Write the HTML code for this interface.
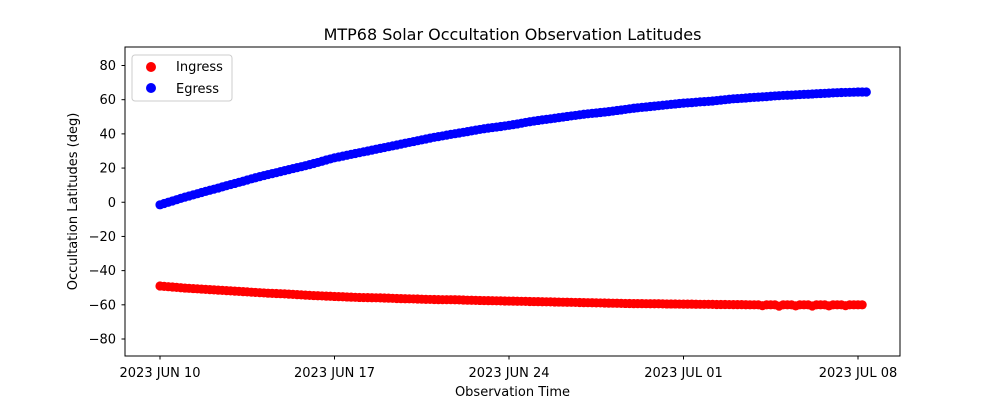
<!DOCTYPE html>
<html><head><meta charset="utf-8"><style>
body{margin:0;background:#fff;}
svg text{font-family:"DejaVu Sans","Liberation Sans",sans-serif;}
</style></head><body>
<svg id="chart" width="1000" height="400" xmlns="http://www.w3.org/2000/svg">
<rect width="1000" height="400" fill="#fff"/>
<text x="512.5" y="40" font-size="16" text-anchor="middle">MTP68 Solar Occultation Observation Latitudes</text>
<g id="marks"></g>
<g id="axes"></g>
<rect x="125" y="47" width="775" height="309" fill="none" stroke="#000" stroke-width="1"/>
<text x="512.5" y="396" font-size="13" text-anchor="middle">Observation Time</text>
<text transform="translate(77,201.5) rotate(-90)" font-size="13" text-anchor="middle">Occultation Latitudes (deg)</text>
<g>
<rect x="132" y="55" width="100" height="46" rx="3" fill="#fff" stroke="#ccc"/>
<circle cx="151" cy="67" r="5" fill="#ff0000"/>
<text x="176" y="71" font-size="13">Ingress</text>
<circle cx="151" cy="88" r="5" fill="#0000ff"/>
<text x="176" y="93" font-size="13">Egress</text>
</g>
</svg>
<script>
const xTickLabels=["2023 JUN 10","2023 JUN 17","2023 JUN 24","2023 JUL 01","2023 JUL 08"];
const xTickDays=[0,7,14,21,28];
const yTicks=[-80,-60,-40,-20,0,20,40,60,80];
const stepDays=1/6;
const egress=[-1.5,-0.75,0,0.75,1.5,2.25,3,3.65,4.3,5,5.7,6.35,7,7.65,8.3,9,9.7,10.35,11,11.65,12.3,13,13.7,14.35,15,15.6,16.2,16.75,17.3,17.9,18.5,19.1,19.7,20.25,20.8,21.4,22,22.65,23.3,24,24.7,25.35,26,26.5,27,27.5,28,28.5,29,29.5,30,30.5,31,31.5,32,32.5,33,33.5,34,34.5,35,35.5,36,36.5,37,37.5,38,38.4,38.8,39.25,39.7,40.1,40.5,40.9,41.3,41.75,42.2,42.6,43,43.35,43.7,44,44.3,44.65,45,45.4,45.8,46.25,46.7,47.1,47.5,47.85,48.2,48.5,48.8,49.15,49.5,49.85,50.2,50.5,50.8,51.15,51.5,51.75,52,52.25,52.5,52.75,53,53.35,53.7,54,54.3,54.65,55,55.25,55.5,55.75,56,56.25,56.5,56.75,57,57.25,57.5,57.75,58,58.15,58.3,58.5,58.7,58.85,59,59.25,59.5,59.75,60,60.25,60.5,60.65,60.8,61,61.2,61.35,61.5,61.65,61.8,62,62.2,62.35,62.5,62.6,62.7,62.85,63,63.1,63.2,63.35,63.5,63.6,63.7,63.85,64,64.1,64.2,64.25,64.3,64.4,64.5,64.5,64.5];
const ingress=[-49,-49.2,-49.4,-49.6,-49.8,-50,-50.2,-50.35,-50.5,-50.65,-50.8,-50.95,-51.1,-51.25,-51.4,-51.55,-51.7,-51.85,-52,-52.15,-52.3,-52.45,-52.6,-52.75,-52.9,-53.05,-53.2,-53.3,-53.4,-53.5,-53.6,-53.75,-53.9,-54.05,-54.2,-54.35,-54.5,-54.6,-54.7,-54.8,-54.9,-55,-55.1,-55.2,-55.3,-55.4,-55.5,-55.6,-55.7,-55.75,-55.8,-55.85,-55.9,-55.95,-56,-56.1,-56.2,-56.3,-56.4,-56.45,-56.5,-56.55,-56.6,-56.7,-56.8,-56.85,-56.9,-56.95,-57,-57,-57,-57.05,-57.1,-57.2,-57.3,-57.35,-57.4,-57.45,-57.5,-57.55,-57.6,-57.65,-57.7,-57.75,-57.8,-57.85,-57.9,-57.95,-58,-58.05,-58.1,-58.15,-58.2,-58.25,-58.3,-58.35,-58.4,-58.45,-58.5,-58.55,-58.6,-58.65,-58.7,-58.75,-58.8,-58.85,-58.9,-58.95,-59,-59.05,-59.1,-59.15,-59.2,-59.25,-59.3,-59.3,-59.3,-59.35,-59.4,-59.4,-59.4,-59.45,-59.5,-59.5,-59.5,-59.55,-59.6,-59.6,-59.6,-59.65,-59.7,-59.7,-59.7,-59.75,-59.8,-59.8,-59.8,-59.85,-59.9,-59.9,-59.9,-59.95,-60,-60,-60,-60.5,-60,-60,-60,-60.8,-60,-60,-60,-60.6,-60,-60,-60,-60.7,-60,-60,-60,-60.6,-60,-60,-60,-60.5,-60,-60,-60,-60];
const NS="http://www.w3.org/2000/svg";
function xScale(d){return 160+d*(698/28);}
function yScale(v){return 202.25-v*(273.5/160);}
const marks=document.getElementById('marks');
function drawSeries(arr,color,name){
  arr.forEach((v,i)=>{
    const c=document.createElementNS(NS,'circle');
    c.setAttribute('cx',xScale(i*stepDays));
    c.setAttribute('cy',yScale(v));
    c.setAttribute('r',4.6);
    c.setAttribute('fill',color);
    
    
    marks.appendChild(c);
  });
}
drawSeries(ingress,'#ff0000','ingress');
drawSeries(egress,'#0000ff','egress');
const axes=document.getElementById('axes');
xTickDays.forEach((d,i)=>{
  const x=xScale(d);
  const l=document.createElementNS(NS,'line');
  l.setAttribute('x1',x);l.setAttribute('x2',x);l.setAttribute('y1',356);l.setAttribute('y2',359.5);l.setAttribute('stroke','#000');
  
  
  axes.appendChild(l);
  const t=document.createElementNS(NS,'text');
  t.setAttribute('x',x);t.setAttribute('y',377);t.setAttribute('font-size','13');t.setAttribute('text-anchor','middle');
  t.textContent=xTickLabels[i];
  
  
  axes.appendChild(t);
});
yTicks.forEach(v=>{
  const y=yScale(v);
  const l=document.createElementNS(NS,'line');
  l.setAttribute('x1',121.5);l.setAttribute('x2',125);l.setAttribute('y1',y);l.setAttribute('y2',y);l.setAttribute('stroke','#000');
  
  
  axes.appendChild(l);
  const t=document.createElementNS(NS,'text');
  t.setAttribute('x',116);t.setAttribute('y',y+4.5);t.setAttribute('font-size','13');t.setAttribute('text-anchor','end');
  t.textContent=String(v).replace('-','\u2212');
  
  
  axes.appendChild(t);
});
</script>
</body></html>
